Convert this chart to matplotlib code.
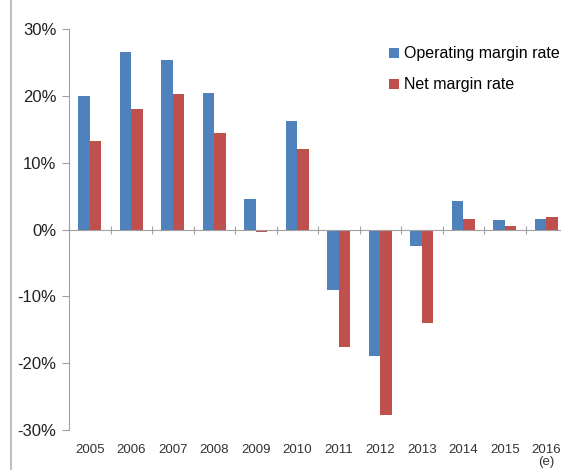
import numpy as np
import matplotlib
matplotlib.use('Agg')
import matplotlib.pyplot as plt
from matplotlib.lines import Line2D
from matplotlib.ticker import FuncFormatter

plt.rcParams['font.family'] = ['Liberation Sans', 'DejaVu Sans']

# dados
anos = ['2005', '2006', '2007', '2008', '2009', '2010', '2011', '2012', '2013', '2014', '2015', '2016\n(e)']
margem_operacional = [20.0, 26.5, 25.3, 20.4, 4.5, 16.2, -9.0, -19.0, -2.4, 4.2, 1.4, 1.6]
margem_liquida = [13.2, 18.1, 20.2, 14.5, -0.3, 12.1, -17.6, -27.7, -14.0, 1.5, 0.5, 1.8]

azul = '#4F81BD'
vermelho = '#C0504D'

fig = plt.figure(figsize=(5.61, 4.70), dpi=100)
ax = fig.add_axes([69 / 561, 1 - 430 / 470, 498 / 561, 401 / 470])

x = np.arange(len(anos))
w = 0.28
ax.bar(x - w / 2, margem_operacional, w, color=azul, label='Operating margin rate', zorder=2)
ax.bar(x + w / 2, margem_liquida, w, color=vermelho, label='Net margin rate', zorder=2)

ax.set_xlim(-0.5, len(anos) - 0.5)
ax.set_ylim(-30, 30)
ax.set_yticks([-30, -20, -10, 0, 10, 20, 30])
ax.yaxis.set_major_formatter(FuncFormatter(lambda v, p: f'{int(v)}%'))
ax.tick_params(axis='y', length=5, color='#a0a0a0', labelsize=12, labelcolor='#222222', pad=4)

# eixo x na linha do zero
ax.spines['bottom'].set_position(('data', 0))
ax.spines['bottom'].set_color('#a0a0a0')
ax.spines['left'].set_color('#a0a0a0')
ax.spines['top'].set_visible(False)
ax.spines['right'].set_visible(False)
ax.set_xticks(np.arange(len(anos) + 1) - 0.5)
ax.set_xticklabels([])
ax.tick_params(axis='x', direction='inout', length=6, color='#a0a0a0')

for i, a in enumerate(anos):
    ax.text(i, -0.035, a, transform=ax.get_xaxis_transform(), ha='center', va='top',
            fontsize=9.5, color='#333333', linespacing=1.0)

ax.legend(loc='upper left', bbox_to_anchor=(383 / 561, 1 - 40 / 470), bbox_transform=fig.transFigure,
          frameon=False, fontsize=11.5, handlelength=0.6, handleheight=0.6, handletextpad=0.3,
          labelspacing=1.0, borderaxespad=0)

# borda cinza à esquerda
fig.add_artist(Line2D([11 / 561, 11 / 561], [0, 1], color='#c0c0c0', lw=1.5))

fig.savefig('out.png', dpi=100)
